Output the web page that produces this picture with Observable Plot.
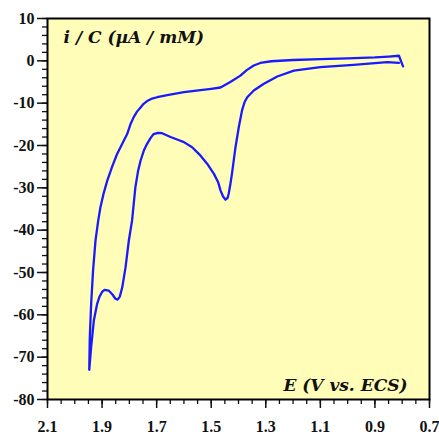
<!DOCTYPE html>
<html>
<head>
<meta charset="utf-8">
<script src="https://cdn.jsdelivr.net/npm/d3@7"></script>
<script src="https://cdn.jsdelivr.net/npm/@observablehq/plot@0.6"></script>
<style>
  html, body { margin: 0; padding: 0; background: #fff; }
</style>
</head>
<body>
<div id="chart"></div>
<script>
// Potential E (V vs. ECS) along the scan
const E = [
  0.797, 0.812, 0.85, 0.90, 1.00, 1.10, 1.20, 1.28, 1.32, 1.344, 1.37, 1.393, 1.43, 1.466, 1.50,
  1.539, 1.60, 1.661, 1.698, 1.72, 1.735, 1.75, 1.759, 1.772, 1.784, 1.796, 1.808, 1.826, 1.845,
  1.863, 1.881, 1.895, 1.906, 1.914, 1.924, 1.933, 1.940, 1.945, 1.947,
  1.940, 1.930, 1.918, 1.910, 1.900, 1.891, 1.875, 1.862, 1.851, 1.843, 1.835, 1.826, 1.814,
  1.802, 1.790, 1.778, 1.768, 1.759, 1.747, 1.735, 1.722, 1.711, 1.695, 1.680, 1.649, 1.62,
  1.60, 1.57, 1.539, 1.515, 1.49, 1.475, 1.466, 1.457, 1.448, 1.440, 1.436, 1.43, 1.424, 1.411,
  1.399, 1.387, 1.378, 1.368, 1.344, 1.307, 1.258, 1.197, 1.10, 0.978, 0.855, 0.812
];
// Normalised current i/C (µA/mM)
const I = [
  -1.3, 1.2, 1.0, 0.8, 0.6, 0.4, 0.2, -0.1, -0.5, -1.1, -2.2, -3.5, -5.0, -6.3, -6.6,
  -6.9, -7.4, -8.1, -8.6, -9.0, -9.5, -10.3, -11.0, -12.0, -13.3, -15.0, -17.3, -19.6, -22.0,
  -25.0, -28.3, -31.5, -34.6, -37.7, -42.4, -49.5, -57.4, -65.3, -73.0,
  -67.6, -61.3, -57.4, -55.8, -54.6, -54.1, -54.3, -55.2, -56.2, -56.4, -55.7, -53.5, -48.8,
  -42.5, -37.7, -29.9, -26.0, -23.6, -21.2, -19.6, -18.2, -17.3, -17.0, -17.1, -18.0, -18.7,
  -19.2, -20.4, -22.4, -24.3, -26.7, -28.6, -30.6, -32.0, -32.8, -32.4, -31.4, -29.2, -26.7, -20.4,
  -15.7, -11.7, -9.8, -8.6, -7.0, -5.4, -3.7, -2.3, -1.5, -0.95, -0.3, -0.5
];
const xTicks = [2.1, 1.9, 1.7, 1.5, 1.3, 1.1, 0.9, 0.7];
const xMinor = d3.range(0, 29).map(k => 0.7 + k * 0.05);
const yTicks = [-80, -70, -60, -50, -40, -30, -20, -10, 0, 10];
const yMinor = d3.range(-80, 11, 2);
const yLabel = "i / C (µA / mM)";
const xLabel = "E (V vs. ECS)";

const data = E.map((e, k) => ({E: e, I: I[k]}));
const serif = "'Liberation Serif', 'DejaVu Serif', serif";
const labelFont = "'DejaVu Serif', serif";

const chart = Plot.plot({
  width: 439,
  height: 435,
  marginLeft: 47,
  marginRight: 10,
  marginTop: 18,
  marginBottom: 36,
  style: {fontFamily: serif, fontWeight: "bold", fontSize: "16px", color: "#111", background: "#fff"},
  x: {domain: [2.1, 0.7], axis: null},
  y: {domain: [-80, 10], axis: null},
  marks: [
    Plot.frame({fill: "#FFFDB8", stroke: null}),
    Plot.axisX({ticks: xMinor, tickSize: 5, tickFormat: () => "", label: null, strokeWidth: 1.3}),
    Plot.axisX({ticks: xTicks, tickSize: 9, tickPadding: 12, tickFormat: d3.format(".1f"), label: null, strokeWidth: 1.5, fontSize: 16}),
    Plot.axisY({ticks: yMinor, tickSize: 5, tickFormat: () => "", label: null, strokeWidth: 1.3}),
    Plot.axisY({ticks: yTicks, tickSize: 10, tickPadding: 3, tickFormat: d => String(d), label: null, strokeWidth: 1.5, fontSize: 16}),
    Plot.line(data, {x: "E", y: "I", stroke: "#1a1aff", strokeWidth: 2.3, curve: "linear"}),
    Plot.frame({stroke: "#000", strokeWidth: 2}),
    Plot.text([yLabel], {frameAnchor: "top-left", dx: 16, dy: 12, textAnchor: "start", lineAnchor: "top",
      fontSize: 17, fontStyle: "italic", fontWeight: "bold", fontFamily: labelFont, fill: "#111"}),
    Plot.text([xLabel], {frameAnchor: "bottom-right", dx: -22, dy: -9, textAnchor: "end", lineAnchor: "bottom",
      fontSize: 17, fontStyle: "italic", fontWeight: "bold", fontFamily: labelFont, fill: "#111"})
  ]
});
document.getElementById("chart").appendChild(chart);
</script>
</body>
</html>
